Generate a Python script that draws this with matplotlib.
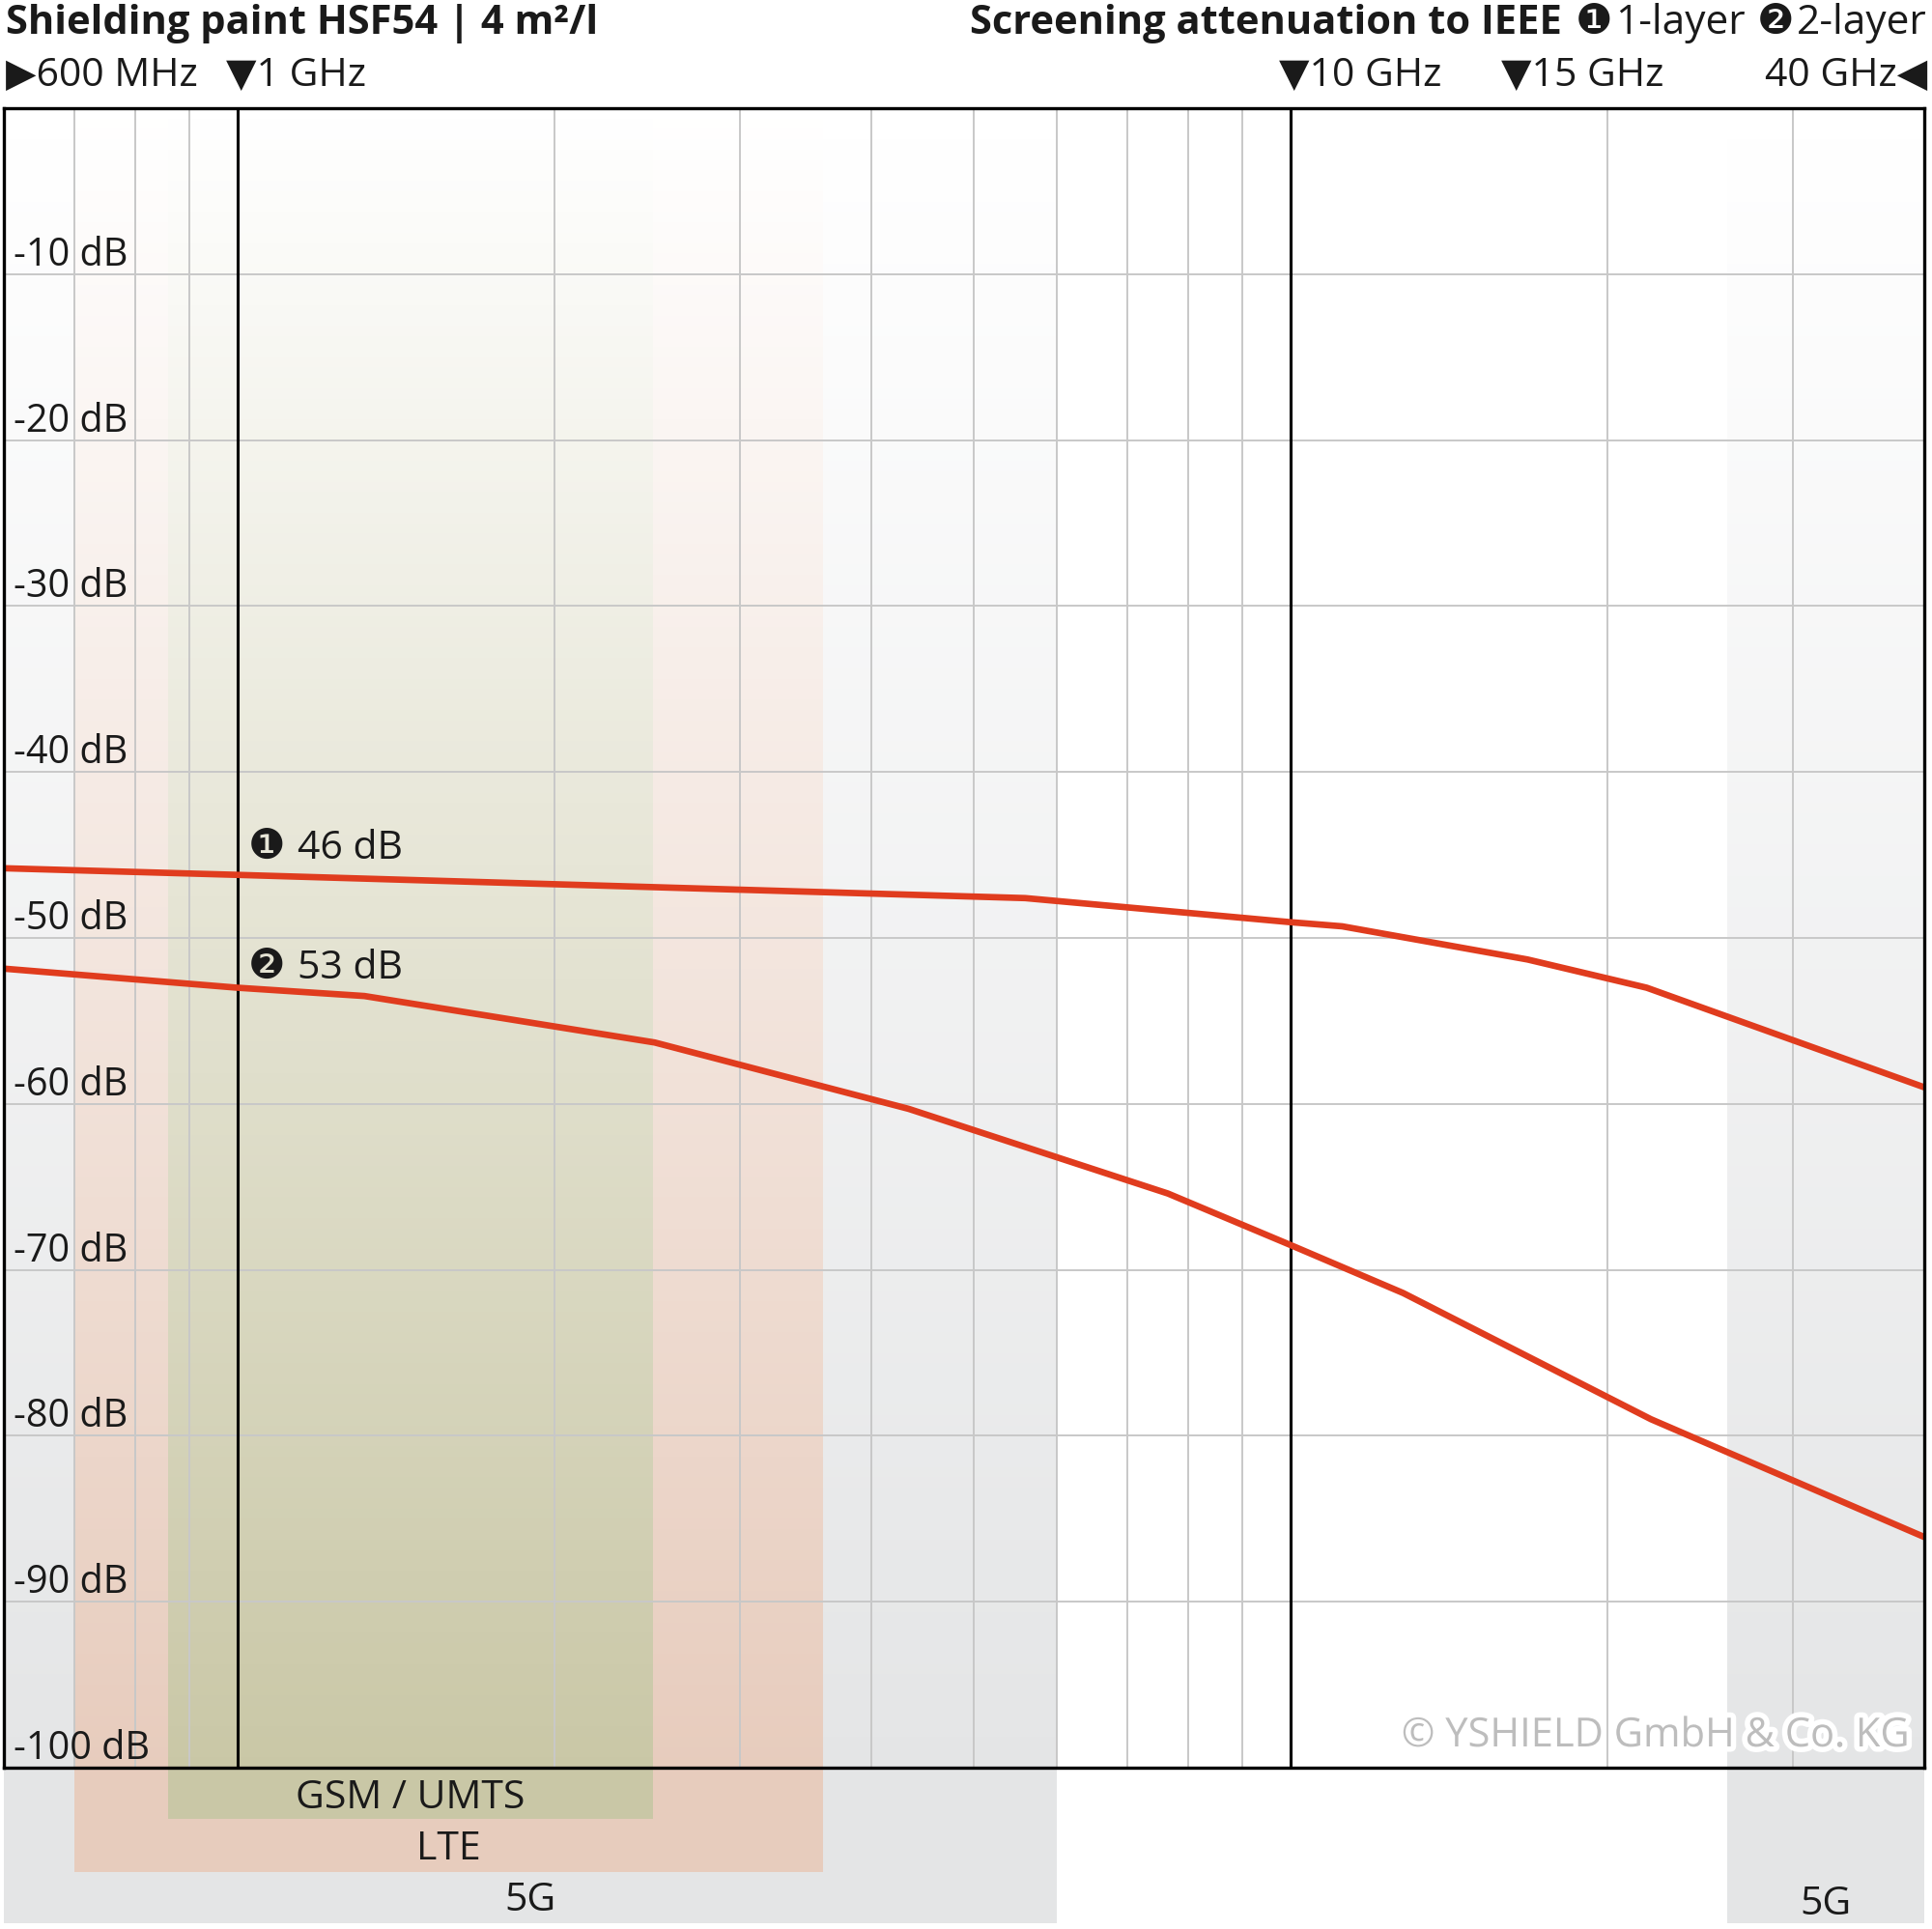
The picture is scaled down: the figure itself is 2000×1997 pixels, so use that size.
import matplotlib
matplotlib.use("Agg")
import matplotlib.pyplot as plt
from matplotlib import patheffects as pe
from matplotlib.ticker import NullLocator
from matplotlib.transforms import blended_transform_factory
import numpy as np

# ---------------- data ----------------
freq_1layer = [0.6, 1.0, 5.6, 10.0, 11.2, 16.8, 21.8, 40.0]          # GHz
atten_1layer = [-45.8, -46.2, -47.6, -49.05, -49.3, -51.3, -53.0, -59.0]  # dB

freq_2layer = [0.6, 1.0, 1.32, 2.49, 4.34, 7.65, 10.0, 12.8, 22.0, 40.0]
atten_2layer = [-51.85, -53.0, -53.5, -56.3, -60.3, -65.4, -68.5, -71.4, -79.0, -86.1]

band_names = ["5G", "5G", "LTE", "GSM / UMTS"]
band_start = [0.6, 26.0, 0.7, 0.86]   # GHz
band_end = [6.0, 40.0, 3.6, 2.48]     # GHz

grid_freqs = [0.7, 0.8, 0.9, 2, 3, 4, 5, 6, 7, 8, 9, 20, 30]
marker_freqs = [1.0, 10.0]
db_levels = [-10, -20, -30, -40, -50, -60, -70, -80, -90, -100]

title_left = "Shielding paint HSF54 | 4 m²/l"
title_right = "Screening attenuation to IEEE"
layer_labels = ["1-layer", "2-layer"]
circled = ["❶", "❷"]
copyright_text = "© YSHIELD GmbH & Co. KG"

# ---------------- style ----------------
plt.rcParams["font.family"] = ["Open Sans", "DejaVu Sans"]
TXT = "#1a1a1a"
RED = "#E03C1E"
GRID = "#C8C8C8"
band_colors = ["#E4E5E6", "#E4E5E6", "#E7CCBD", "#C9C7A6"]
band_depth = [-0.0937, -0.0937, -0.0629, -0.0308]   # axes fraction below frame
label_base = [-0.0861, -0.0885, -0.0553, -0.0244]

W, H = 2000, 1997
fig = plt.figure(figsize=(W / 100, H / 100), dpi=100)
L, R, T, B = 4, 1992, 112, 1830
ax = fig.add_axes([L / W, 1 - B / H, (R - L) / W, (B - T) / H])
ax.set_xscale("log")
ax.set_xlim(0.6, 40)
ax.set_ylim(-100, 0)
ax.xaxis.set_major_locator(NullLocator())
ax.xaxis.set_minor_locator(NullLocator())
ax.yaxis.set_major_locator(NullLocator())
ax.tick_params(which="both", length=0, labelbottom=False, labelleft=False)
for s in ax.spines.values():
    s.set_linewidth(2.4)
    s.set_color("black")
    s.set_zorder(10)

def fx(x):
    return x / W

def fy(y):
    return 1 - y / H

# ---------------- bands with vertical gradient ----------------
N = 160
white = np.array([1.0, 1.0, 1.0])
for f0, f1, col, dep in zip(band_start, band_end, band_colors, band_depth):
    c = np.array(matplotlib.colors.to_rgb(col))
    for i in range(N):
        t0 = i / N
        t1 = (i + 1) / N
        a = 1.0 - (t0 + t1) / 2
        cc = white * (1 - a) + c * a
        ax.axvspan(f0, f1, ymin=t0, ymax=min(1.0, t1 + 0.002), color=cc, lw=0, zorder=0.5)
    ax.axvspan(f0, f1, ymin=dep, ymax=0.0, color=c, lw=0, zorder=0.5, clip_on=False)

xb = blended_transform_factory(ax.transData, ax.transAxes)
for name, f0, f1, yb in zip(band_names, band_start, band_end, label_base):
    ax.text(np.sqrt(f0 * f1), yb, name, transform=xb, ha="center", va="baseline",
            fontsize=29.5, color=TXT, clip_on=False, zorder=6)

# ---------------- grid ----------------
for f in grid_freqs:
    ax.axvline(f, color=GRID, lw=1.4, zorder=2)
for d in db_levels[:-1]:
    ax.axhline(d, color=GRID, lw=1.4, zorder=2)
for f in marker_freqs:
    ax.axvline(f, color="black", lw=2.2, zorder=3)

# ---------------- curves ----------------
ax.plot(freq_1layer, atten_1layer, color=RED, lw=4.8, zorder=4, solid_joinstyle="round")
ax.plot(freq_2layer, atten_2layer, color=RED, lw=4.8, zorder=4, solid_joinstyle="round")

# y labels
yb_t = blended_transform_factory(ax.transAxes, ax.transData)
for d in db_levels:
    ax.annotate(f"{d} dB", xy=(0, d), xycoords=yb_t, xytext=(10, 9),
                textcoords="offset pixels", ha="left", va="baseline",
                fontsize=28.5, color=TXT, zorder=6)

# value annotations at 1 GHz
v1 = atten_1layer[freq_1layer.index(1.0)]
v2 = atten_2layer[freq_2layer.index(1.0)]
for val, sym, dy in [(v1, circled[0], 17), (v2, circled[1], 10)]:
    ax.annotate(sym, xy=(1.0, val), xytext=(11, dy), textcoords="offset pixels",
                ha="left", va="baseline", fontsize=31, color=TXT,
                family=["DejaVu Sans"], zorder=6)
    ax.annotate(f"{abs(val):.0f} dB", xy=(1.0, val), xytext=(62, dy),
                textcoords="offset pixels", ha="left", va="baseline",
                fontsize=29.5, color=TXT, zorder=6)

# ---------------- header ----------------
fig.text(fx(6), fy(35), title_left, ha="left", va="baseline", fontsize=30,
         fontweight="bold", color=TXT)

renderer = fig.canvas.get_renderer()
pieces = [
    (title_right, dict(fontweight="bold", fontsize=30), 14),
    (circled[0], dict(fontsize=31, family=["DejaVu Sans"]), 3),
    (layer_labels[0], dict(fontsize=30.5), 12),
    (circled[1], dict(fontsize=31, family=["DejaVu Sans"]), 3),
    (layer_labels[1], dict(fontsize=30.5), 0),
]
xr = 1995.0
for i in range(len(pieces) - 1, -1, -1):
    s, kw, _ = pieces[i]
    t = fig.text(fx(xr), fy(35), s, ha="right", va="baseline", color=TXT, **kw)
    bb = t.get_window_extent(renderer)
    gap = pieces[i - 1][2] if i > 0 else 0
    xr = bb.x0 - gap

hdr = [("▶600 MHz", 6, "left"), ("▼1 GHz", 234, "left"), ("▼10 GHz", 1324, "left"),
       ("▼15 GHz", 1554, "left"), ("40 GHz◀", 1995, "right")]
for s, x, ha in hdr:
    fig.text(fx(x), fy(89), s, ha=ha, va="baseline", fontsize=29.5, color=TXT)

# copyright
fig.text(fx(1977), fy(1808), copyright_text, ha="right", va="baseline", fontsize=30,
         color="#BDBDBD", zorder=12,
         path_effects=[pe.withStroke(linewidth=8, foreground="white")])

fig.savefig("out.png", dpi=100)
